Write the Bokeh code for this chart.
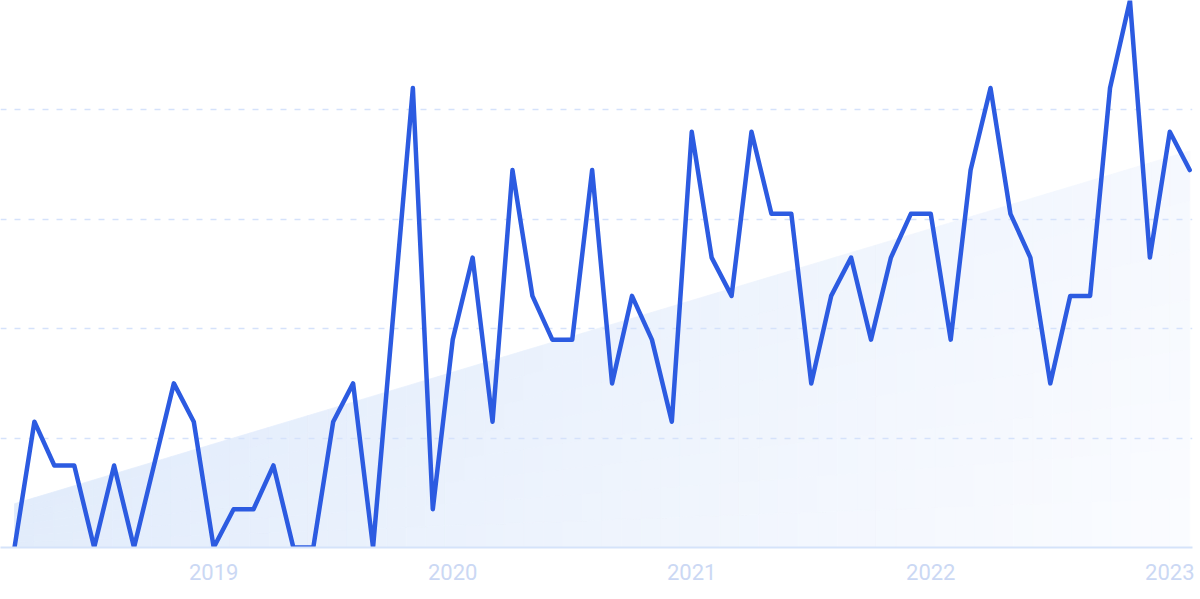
import numpy as np
import pandas as pd
from bokeh.plotting import figure
from bokeh.models import Range1d, FixedTicker
from bokeh.embed import file_html
from bokeh.resources import INLINE

# ---- data (monthly interest index) ----
months = [d.strftime("%Y-%m") for d in pd.date_range("2018-03-01", periods=60, freq="MS")]
values = [0, 23, 15, 15, 0, 15, 0, 15, 30, 23,
          0, 7, 7, 15, 0, 0, 23, 30, 0, 42,
          84, 7, 38, 53, 23, 69, 46, 38, 38, 69,
          30, 46, 38, 23, 76, 53, 46, 76, 61, 61,
          30, 46, 53, 38, 53, 61, 61, 38, 69, 84,
          61, 53, 30, 46, 46, 84, 100, 53, 76, 69]
trend_ends = [8.0, 72.5]          # trend line value at first and last month
grid_values = [20, 40, 60, 80, 100]

n = len(months)
idx = list(range(n))
year_ticks = [i for i, m in enumerate(months) if m.endswith("-01")]
year_labels = {i: months[i][:4] for i in year_ticks}

W, H = 1196, 591
p = figure(width=W, height=H, output_backend="svg", toolbar_location=None,
           x_range=Range1d(-0.703, 59.14), y_range=Range1d(0, 100),
           y_axis_location=None,
           min_border_left=0, min_border_right=4, min_border_top=0, min_border_bottom=44)
p.outline_line_color = None
p.background_fill_color = "white"
p.border_fill_color = "white"

# ---- gradient trend area ----
def trend(x):
    return trend_ends[0] + (trend_ends[1] - trend_ends[0]) * x / (n - 1)

c0 = np.array([0xda, 0xe7, 0xfa], float)
c1 = np.array([0xfb, 0xfc, 0xff], float)
NC, NR = 60, 8
xs, ys, cols = [], [], []
for c in range(NC):
    xa = c / NC * (n - 1)
    xb = (c + 1) / NC * (n - 1)
    ta, tb = trend(xa), trend(xb)
    for r in range(NR):
        f0, f1 = r / NR, (r + 1) / NR
        xs.append([xa, xb, xb, xa])
        ys.append([f0 * ta, f0 * tb, f1 * tb, f1 * ta])
        u = (xa + xb) / 2 / (n - 1)
        h = (f0 + f1) / 2 * trend((xa + xb) / 2) / 100
        s = min(1, max(0, 0.75 * u + 0.25 * (1 - h)))
        col = c0 + (c1 - c0) * s
        cols.append("#%02x%02x%02x" % tuple(int(round(v)) for v in col))
p.patches(xs, ys, fill_color=cols, line_color=cols, line_width=0.8, level="image")

# ---- main line ----
p.line(idx, values, line_color="#2c5be1", line_width=4.5, line_join="round", line_cap="round")

# ---- grid ----
p.xgrid.visible = False
p.ygrid.ticker = FixedTicker(ticks=grid_values)
p.ygrid.grid_line_color = "#d5e2fb"
p.ygrid.grid_line_width = 1.5
p.ygrid.grid_line_dash = "6 8"

# ---- x axis ----
ax = p.xaxis[0]
ax.ticker = FixedTicker(ticks=year_ticks)
ax.major_label_overrides = year_labels
ax.axis_line_color = "#d5e3fa"
ax.axis_line_width = 2
ax.major_tick_line_color = None
ax.minor_tick_line_color = None
ax.major_label_standoff = 10
ax.major_label_text_font = "Roboto"
ax.major_label_text_font_size = "22px"
ax.major_label_text_color = "#cbd8f4"

open("out.html", "w").write(file_html(p, INLINE))
